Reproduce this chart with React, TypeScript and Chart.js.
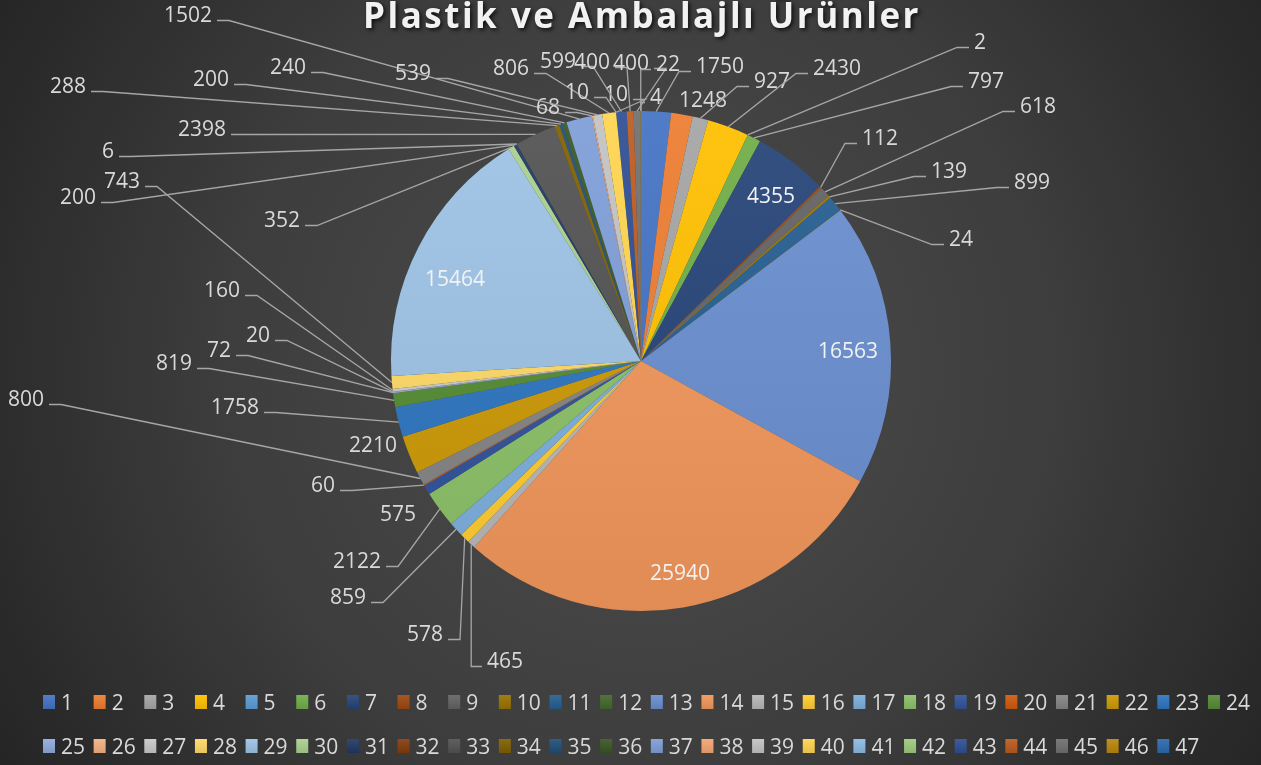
import React, { useEffect, useRef } from 'react';
import { Chart, registerables } from 'chart.js';

Chart.register(...registerables);

const TITLE = 'Plastik ve Ambalajlı Ürünler';

const categories = [
  '1','2','3','4','5','6','7','8','9','10','11','12','13','14','15','16','17','18','19','20','21','22','23','24',
  '25','26','27','28','29','30','31','32','33','34','35','36','37','38','39','40','41','42','43','44','45','46','47',
];

const values = [
  1750, 1248, 927, 2430, 2, 797, 4355, 112, 618, 139, 899, 24,
  16563, 25940, 465, 578, 859, 2122, 575, 60, 800, 2210, 1758, 819,
  72, 20, 160, 743, 15464, 352, 200, 6, 2398, 288, 200, 240,
  1502, 68, 539, 806, 10, 10, 599, 400, 400, 22, 4,
];

const colors = [
  '#4472C4', '#ED7D31', '#A5A5A5', '#FFC000', '#5B9BD5', '#70AD47',
  '#264478', '#9E480E', '#636363', '#997300', '#255E91', '#43682B',
  '#698ED0', '#F1975A', '#B7B7B7', '#FFCD33', '#7CAFDD', '#8CC168',
  '#31539C', '#D0590F', '#848484', '#CC9A06', '#2E75C0', '#548C35',
  '#8FAADC', '#F4B183', '#C9C9C9', '#FFD966', '#9DC3E6', '#A9D18E',
  '#203864', '#843C0C', '#525252', '#7F6000', '#1F4E79', '#385723',
  '#7F9ED8', '#F4A572', '#C3C3C3', '#FFD54F', '#8DBBE6', '#9DCB7E',
  '#2E4F94', '#BC5A1E', '#707070', '#B8860B', '#2B69AD',
];

// label placement relative to the pie centre, in units of the pie radius
const labelOffsets: [number, number][] = [
  [0.316, -1.184], [0.248, -1.048], [0.524, -1.124], [0.784, -1.176], [1.356, -1.28], [1.38, -1.124],
  [0.52, -0.664], [0.956, -0.896], [1.588, -1.024], [1.232, -0.764], [1.564, -0.72], [1.28, -0.492],
  [0.828, -0.044], [0.156, 0.844], [-0.544, 1.196], [-0.864, 1.088], [-1.172, 0.94], [-1.136, 0.796],
  [-0.972, 0.608], [-1.272, 0.492], [-2.46, 0.148], [-1.072, 0.332], [-1.624, 0.18], [-1.868, 0.004],
  [-1.688, -0.048], [-1.532, -0.108], [-1.676, -0.288], [-2.076, -0.724], [-0.744, -0.332], [-1.436, -0.568],
  [-2.252, -0.66], [-2.132, -0.844], [-1.756, -0.932], [-2.292, -1.104], [-1.72, -1.132], [-1.412, -1.18],
  [-1.812, -1.388], [-0.372, -1.02], [-0.912, -1.156], [-0.52, -1.176], [-0.256, -1.08], [-0.1, -1.072],
  [-0.332, -1.204], [-0.196, -1.2], [-0.04, -1.196], [0.108, -1.192], [0.06, -1.06],
];

// labels sitting right next to their slice (no leader line), 1-based
const noLeader = [2, 19, 22];

const LABEL_FONT = '21px "Open Sans"';
const TEXT_COLOR = '#d9d9d9';

function mix(hex: string, target: number, amt: number): string {
  const n = parseInt(hex.slice(1), 16);
  const r = (n >> 16) & 255, g = (n >> 8) & 255, b = n & 255;
  const f = (c: number) => Math.round(c + (target - c) * amt);
  return `rgb(${f(r)},${f(g)},${f(b)})`;
}

const backgroundPlugin = {
  id: 'bg',
  beforeDraw(chart: any) {
    const { ctx, width, height } = chart;
    ctx.save();
    const g = ctx.createRadialGradient(640, 370, 0, 640, 370, 760);
    g.addColorStop(0, '#4d4d4d');
    g.addColorStop(0.55, '#3d3d3d');
    g.addColorStop(1, '#242424');
    ctx.fillStyle = g;
    ctx.fillRect(0, 0, width, height);
    ctx.restore();
  },
};

const labelPlugin = {
  id: 'pieLabels',
  afterDatasetsDraw(chart: any) {
    const ctx = chart.ctx;
    const meta = chart.getDatasetMeta(0);
    ctx.save();
    ctx.font = LABEL_FONT;
    ctx.textAlign = 'center';
    ctx.textBaseline = 'alphabetic';
    ctx.strokeStyle = '#a6a6a6';
    ctx.lineWidth = 1.3;
    meta.data.forEach((arc: any, i: number) => {
      const { x, y, startAngle, endAngle, outerRadius } = arc.getProps(
        ['x', 'y', 'startAngle', 'endAngle', 'outerRadius'], true);
      const mid = (startAngle + endAngle) / 2;
      const px = x + Math.cos(mid) * outerRadius;
      const py = y + Math.sin(mid) * outerRadius;
      const [ox, oy] = labelOffsets[i];
      const lx = x + ox * outerRadius;
      const ly = y + oy * outerRadius;
      const text = String(values[i]);
      const w = ctx.measureText(text).width;
      const inside = Math.hypot(ox, oy) < 1;
      const base = ly + 7.5;
      if (!inside && !noLeader.includes(i + 1)) {
        const right = px > lx;
        const edge = right ? lx + w / 2 + 5 : lx - w / 2 - 5;
        const sy = base - 1;
        const stub = Math.min(12, Math.abs(px - edge));
        const sx = right ? edge + stub : edge - stub;
        ctx.beginPath();
        ctx.moveTo(edge, sy);
        ctx.lineTo(sx, sy);
        ctx.lineTo(px, py);
        ctx.stroke();
      }
      ctx.fillStyle = inside ? '#f2f2f2' : TEXT_COLOR;
      ctx.fillText(text, lx, base);
    });
    ctx.restore();
  },
};

const chromePlugin = {
  id: 'chrome',
  afterDraw(chart: any) {
    const ctx = chart.ctx;
    ctx.save();
    // title
    ctx.font = 'bold 35px "Open Sans"';
    (ctx as any).letterSpacing = '2.5px';
    ctx.textAlign = 'center';
    ctx.textBaseline = 'alphabetic';
    ctx.shadowColor = 'rgba(0,0,0,0.75)';
    ctx.shadowBlur = 4;
    ctx.shadowOffsetX = 2;
    ctx.shadowOffsetY = 2;
    ctx.fillStyle = '#f2f2f2';
    ctx.fillText(TITLE, 642, 28);
    ctx.restore();

    // legend
    ctx.save();
    ctx.font = LABEL_FONT;
    ctx.textAlign = 'left';
    ctx.textBaseline = 'alphabetic';
    const labels = chart.data.labels as string[];
    labels.forEach((lab, i) => {
      const row = i < 24 ? 0 : 1;
      const col = row === 0 ? i : i - 24;
      const x = 43 + col * 50.65;
      const y = row === 0 ? 702 : 746;
      const g = ctx.createLinearGradient(0, y - 7, 0, y + 7);
      g.addColorStop(0, mix(colors[i], 255, 0.08));
      g.addColorStop(1, mix(colors[i], 0, 0.1));
      ctx.fillStyle = g;
      ctx.fillRect(x, y - 7, 12, 14);
      ctx.fillStyle = TEXT_COLOR;
      ctx.fillText(lab, x + 18, y + 7.5);
    });
    ctx.restore();
  },
};

export default function App() {
  const canvasRef = useRef<HTMLCanvasElement | null>(null);

  useEffect(() => {
    const canvas = canvasRef.current;
    if (!canvas) return;
    const chart = new Chart(canvas, {
      type: 'pie',
      data: {
        labels: categories,
        datasets: [
          {
            data: values,
            borderWidth: 0,
            backgroundColor: (c: any) => {
              const area = c.chart.chartArea;
              const col = colors[c.dataIndex] || '#888';
              if (!area) return col;
              const cy = (area.top + area.bottom) / 2;
              const r = Math.min(area.width, area.height) / 2;
              const g = c.chart.ctx.createLinearGradient(0, cy - r, 0, cy + r);
              g.addColorStop(0, mix(col, 255, 0.07));
              g.addColorStop(1, mix(col, 0, 0.07));
              return g;
            },
          },
        ],
      },
      options: {
        responsive: false,
        animation: false,
        layout: { padding: { left: 141, right: 120, top: 111, bottom: 154 } },
        plugins: {
          legend: { display: false },
          title: { display: false },
          tooltip: { enabled: false },
        },
      },
      plugins: [backgroundPlugin, labelPlugin, chromePlugin],
    });
    return () => chart.destroy();
  }, []);

  return (
    <div style={{ position: 'absolute', left: 0, top: 0, width: 1261, height: 765 }}>
      <canvas ref={canvasRef} width={1261} height={765} style={{ display: 'block' }} />
    </div>
  );
}
